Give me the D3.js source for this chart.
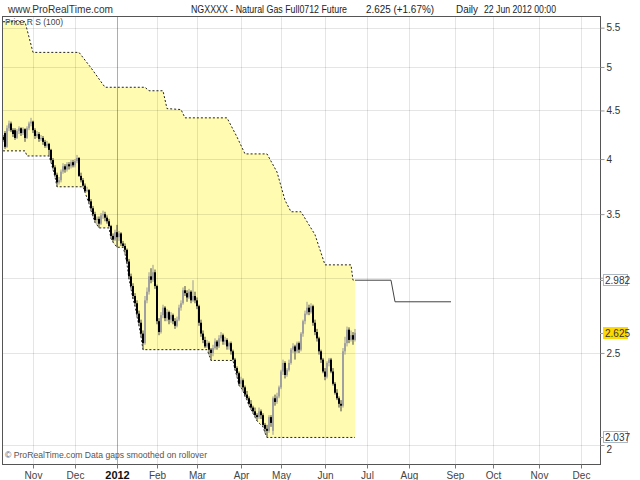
<!DOCTYPE html>
<html lang="en">
<head>
  <meta charset="UTF-8">
  <title>NGXXXX - Natural Gas Full0712 Future</title>
  <script src="https://d3js.org/d3.v7.min.js"></script>
  <style>
    body { margin: 0; background: #fff; }
    svg { display: block; font-family: "Liberation Sans", Arial, sans-serif; }
  </style>
</head>
<body>
  <svg id="chart" width="640" height="480"></svg>

  <script>
    // bars are placed by trading-day index (weekends and exchange holidays skipped)
    const firstDay = "2011-10-11";
    const holidays = ["2011-11-24", "2011-12-26", "2012-01-02", "2012-01-16", "2012-02-20",
                      "2012-04-06", "2012-05-28", "2012-07-04", "2012-09-03", "2012-11-22",
                      "2012-12-25"];

    // daily OHLC from 11 Oct 2011 to 22 Jun 2012, one line per week
    const open = [
      4.22, 4.26, 4.12, 4.31,
      4.36, 4.29, 4.29, 4.21, 4.28,
      4.31, 4.26, 4.30, 4.21, 4.31,
      4.36, 4.38, 4.29, 4.23, 4.25,
      4.20, 4.21, 4.17, 4.13, 4.15,
      4.09, 3.99, 3.92, 3.85, 3.78,
      3.80, 3.88, 3.93, 3.90,
      3.95, 3.93, 3.97, 3.94, 3.98,
      4.01, 3.84, 3.80, 3.75, 3.70,
      3.71, 3.61, 3.55, 3.50, 3.45,
      3.46, 3.42, 3.49, 3.50, 3.47,
      3.44, 3.40, 3.32, 3.29,
      3.35, 3.31, 3.34, 3.26,
      3.24, 3.21, 3.12, 3.01, 2.94,
      2.87, 2.82, 2.75, 2.69,
      2.62, 2.56, 2.84, 2.90, 3.01,
      2.985, 3.04, 2.94, 2.70, 2.63,
      2.74, 2.79, 2.72, 2.76, 2.71,
      2.74, 2.70, 2.67, 2.71, 2.79,
      2.82, 2.91, 2.89, 2.86,
      2.90, 2.84, 2.87, 2.84, 2.80,
      2.69, 2.62, 2.58, 2.54, 2.56,
      2.52, 2.50, 2.53, 2.57, 2.54,
      2.59, 2.61, 2.57, 2.58, 2.54,
      2.56, 2.51, 2.46, 2.41, 2.38,
      2.32, 2.34, 2.30, 2.26,
      2.24, 2.21, 2.19, 2.17, 2.15,
      2.14, 2.17, 2.15, 2.10, 2.08,
      2.07, 2.14, 2.07, 2.24, 2.22,
      2.25, 2.30, 2.39, 2.44, 2.37,
      2.40, 2.44, 2.52, 2.54, 2.51,
      2.56, 2.52, 2.62, 2.70, 2.75,
      2.79, 2.76, 2.80, 2.69, 2.63,
      2.59, 2.51, 2.46, 2.39,
      2.36, 2.44, 2.46, 2.39, 2.32,
      2.27, 2.24, 2.21, 2.20, 2.51,
      2.56, 2.645, 2.58, 2.61, 2.58
    ];
    const high = [
      4.24, 4.28, 4.34, 4.39,
      4.38, 4.31, 4.31, 4.30, 4.33,
      4.32, 4.32, 4.31, 4.33, 4.38,
      4.42, 4.39, 4.31, 4.28, 4.27,
      4.24, 4.23, 4.19, 4.18, 4.16,
      4.10, 4.01, 3.94, 3.87, 3.83,
      3.90, 3.96, 3.95, 3.97,
      3.97, 3.99, 3.99, 4.00, 4.04,
      4.02, 3.87, 3.82, 3.77, 3.74,
      3.72, 3.63, 3.57, 3.52, 3.48,
      3.48, 3.51, 3.53, 3.52, 3.49,
      3.46, 3.41, 3.34, 3.37,
      3.41, 3.36, 3.35, 3.28,
      3.26, 3.22, 3.14, 3.03, 2.96,
      2.89, 2.84, 2.77, 2.71,
      2.64, 2.87, 2.93, 3.04, 3.07,
      3.095, 3.06, 2.95, 2.72, 2.76,
      2.81, 2.80, 2.78, 2.77, 2.76,
      2.75, 2.72, 2.73, 2.81, 2.84,
      2.93, 2.94, 2.91, 2.92,
      2.91, 2.982, 2.90, 2.86, 2.81,
      2.71, 2.64, 2.60, 2.58, 2.57,
      2.53, 2.55, 2.59, 2.58, 2.61,
      2.63, 2.62, 2.60, 2.59, 2.57,
      2.57, 2.52, 2.47, 2.42, 2.39,
      2.36, 2.35, 2.31, 2.28,
      2.25, 2.23, 2.20, 2.19, 2.16,
      2.19, 2.18, 2.16, 2.11, 2.10,
      2.15, 2.15, 2.25, 2.26, 2.27,
      2.31, 2.40, 2.46, 2.45, 2.41,
      2.46, 2.53, 2.56, 2.55, 2.57,
      2.57, 2.63, 2.71, 2.77, 2.83,
      2.81, 2.82, 2.81, 2.71, 2.65,
      2.60, 2.52, 2.47, 2.41,
      2.45, 2.47, 2.47, 2.41, 2.33,
      2.29, 2.25, 2.23, 2.53, 2.60,
      2.665, 2.66, 2.64, 2.63, 2.65
    ];
    const low = [
      4.17, 4.10, 4.11, 4.28,
      4.27, 4.22, 4.19, 4.20, 4.25,
      4.23, 4.24, 4.17, 4.20, 4.29,
      4.33, 4.26, 4.20, 4.21, 4.17,
      4.18, 4.14, 4.11, 4.11, 4.03,
      3.97, 3.90, 3.83, 3.74, 3.76,
      3.78, 3.86, 3.87, 3.88,
      3.90, 3.91, 3.92, 3.92, 3.96,
      3.83, 3.78, 3.74, 3.69, 3.69,
      3.59, 3.53, 3.48, 3.43, 3.41,
      3.385, 3.41, 3.46, 3.44, 3.42,
      3.39, 3.30, 3.27, 3.28,
      3.23, 3.28, 3.24, 3.23,
      3.18, 3.10, 2.99, 2.92, 2.85,
      2.80, 2.73, 2.67, 2.60,
      2.52, 2.55, 2.82, 2.88, 2.96,
      2.97, 2.92, 2.68, 2.61, 2.62,
      2.72, 2.70, 2.70, 2.68, 2.69,
      2.68, 2.65, 2.66, 2.70, 2.77,
      2.81, 2.87, 2.83, 2.85,
      2.82, 2.83, 2.82, 2.78, 2.67,
      2.60, 2.56, 2.53, 2.53, 2.49,
      2.455, 2.48, 2.52, 2.52, 2.53,
      2.57, 2.55, 2.55, 2.52, 2.52,
      2.49, 2.455, 2.40, 2.36, 2.31,
      2.30, 2.28, 2.25, 2.23,
      2.20, 2.18, 2.16, 2.14, 2.12,
      2.13, 2.13, 2.09, 2.06, 2.037,
      2.06, 2.09, 2.05, 2.20, 2.21,
      2.24, 2.29, 2.37, 2.35, 2.36,
      2.39, 2.43, 2.50, 2.46, 2.50,
      2.50, 2.51, 2.60, 2.68, 2.74,
      2.74, 2.75, 2.67, 2.61, 2.57,
      2.49, 2.44, 2.38, 2.34,
      2.35, 2.42, 2.38, 2.31, 2.26,
      2.23, 2.19, 2.17, 2.19, 2.49,
      2.54, 2.56, 2.57, 2.55, 2.57
    ];
    const close = [
      4.19, 4.12, 4.31, 4.36,
      4.29, 4.25, 4.21, 4.28, 4.31,
      4.26, 4.30, 4.21, 4.31, 4.36,
      4.38, 4.29, 4.23, 4.25, 4.20,
      4.21, 4.17, 4.13, 4.15, 4.09,
      3.99, 3.92, 3.85, 3.78, 3.80,
      3.88, 3.93, 3.90, 3.95,
      3.93, 3.97, 3.94, 3.98, 4.01,
      3.84, 3.80, 3.75, 3.70, 3.71,
      3.61, 3.55, 3.50, 3.45, 3.46,
      3.42, 3.49, 3.50, 3.47, 3.44,
      3.40, 3.32, 3.29, 3.35,
      3.31, 3.34, 3.26, 3.24,
      3.21, 3.12, 3.01, 2.94, 2.87,
      2.82, 2.75, 2.69, 2.62,
      2.56, 2.84, 2.90, 3.01, 2.985,
      3.04, 2.94, 2.70, 2.63, 2.74,
      2.79, 2.72, 2.76, 2.71, 2.74,
      2.70, 2.67, 2.71, 2.79, 2.82,
      2.91, 2.89, 2.86, 2.90,
      2.84, 2.87, 2.84, 2.80, 2.69,
      2.62, 2.58, 2.54, 2.56, 2.52,
      2.50, 2.53, 2.57, 2.54, 2.59,
      2.61, 2.57, 2.58, 2.54, 2.56,
      2.51, 2.46, 2.41, 2.38, 2.32,
      2.34, 2.30, 2.26, 2.24,
      2.21, 2.19, 2.17, 2.15, 2.14,
      2.17, 2.15, 2.10, 2.08, 2.07,
      2.14, 2.11, 2.24, 2.22, 2.25,
      2.30, 2.39, 2.44, 2.37, 2.40,
      2.44, 2.52, 2.54, 2.51, 2.56,
      2.52, 2.62, 2.70, 2.75, 2.79,
      2.76, 2.80, 2.69, 2.63, 2.59,
      2.51, 2.46, 2.39, 2.36,
      2.44, 2.46, 2.39, 2.32, 2.27,
      2.24, 2.21, 2.20, 2.51, 2.56,
      2.645, 2.58, 2.61, 2.582, 2.625
    ];

    // Price R S (100): resistance (upper dashed line) breakpoints
    const resDates = ["2011-10-11", "2011-10-26", "2011-11-01", "2011-12-05", "2011-12-13",
                      "2011-12-22", "2012-01-24", "2012-01-26", "2012-02-06", "2012-02-08",
                      "2012-02-17", "2012-02-22", "2012-03-22", "2012-03-29", "2012-04-04",
                      "2012-04-20", "2012-04-27", "2012-05-03", "2012-05-08", "2012-05-15",
                      "2012-05-21", "2012-05-24", "2012-06-01", "2012-06-20", "2012-06-21",
                      "2012-06-22"];
    const resValues = [5.58, 5.58, 5.18, 5.18, 4.99,
                       4.76, 4.76, 4.72, 4.72, 4.52,
                       4.51, 4.42, 4.42, 4.22, 4.05,
                       4.05, 3.876, 3.62, 3.52, 3.52,
                       3.41, 3.33, 3.095, 3.095, 2.982,
                       2.982];
    // resistance carried forward past the last bar (solid line)
    const projDates = ["2012-06-22", "2012-07-19", "2012-07-23", "2012-08-30"];
    const projValues = [2.982, 2.982, 2.83, 2.83];

    // support (lower dashed line) breakpoints
    const supDates = ["2011-10-11", "2011-10-26", "2011-10-27", "2011-11-11", "2011-11-14",
                      "2011-11-15", "2011-11-16", "2011-11-17", "2011-12-07", "2011-12-08",
                      "2011-12-12", "2011-12-13", "2011-12-14", "2011-12-15", "2011-12-16",
                      "2011-12-19", "2011-12-27", "2011-12-28", "2011-12-29", "2012-01-03",
                      "2012-01-06", "2012-01-09", "2012-01-10", "2012-01-11", "2012-01-12",
                      "2012-01-13", "2012-01-17", "2012-01-18", "2012-01-19", "2012-01-20",
                      "2012-01-23", "2012-03-08", "2012-03-09", "2012-03-12", "2012-03-27",
                      "2012-03-28", "2012-03-29", "2012-03-30", "2012-04-02", "2012-04-03",
                      "2012-04-04", "2012-04-05", "2012-04-09", "2012-04-10", "2012-04-11",
                      "2012-04-12", "2012-04-13", "2012-04-18", "2012-04-19", "2012-04-20",
                      "2012-06-22"];
    const supValues = [4.08, 4.08, 4.03, 4.03, 3.97,
                       3.90, 3.83, 3.74, 3.74, 3.69,
                       3.59, 3.53, 3.48, 3.43, 3.41,
                       3.385, 3.385, 3.30, 3.27, 3.23,
                       3.23, 3.18, 3.10, 2.99, 2.92,
                       2.85, 2.80, 2.73, 2.67, 2.60,
                       2.52, 2.52, 2.49, 2.455, 2.455,
                       2.40, 2.36, 2.31, 2.30, 2.28,
                       2.25, 2.23, 2.20, 2.18, 2.16,
                       2.14, 2.12, 2.09, 2.06, 2.037,
                       2.037];

    const gridValues = [2, 2.5, 3, 3.5, 4, 4.5, 5, 5.5];
    const monthTicks = ["2011-11-01", "2011-12-01", "2012-01-01", "2012-02-01", "2012-03-01",
                        "2012-04-01", "2012-05-01", "2012-06-01", "2012-07-01", "2012-08-01",
                        "2012-09-01", "2012-10-01", "2012-11-01", "2012-12-01"];
    const lastPrice = 2.625, lastRes = 2.982, lastSup = 2.037;

    // ---------------------------------------------------------------
    const W = 640, H = 480;
    const plot = { left: 3, right: 600, top: 17, bottom: 464 };
    const font = '"Liberation Sans", Arial, sans-serif';

    const parse = d3.utcParse("%Y-%m-%d");
    const fmt = d3.utcFormat("%Y-%m-%d");

    const calendar = d3.utcDay.range(parse(firstDay), parse("2013-01-01"))
      .filter(d => d.getUTCDay() % 6 !== 0 && !holidays.includes(fmt(d)));
    const barIndex = new Map(calendar.map((d, i) => [fmt(d), i]));

    const bars = close.map((c, i) => ({ i, o: open[i], h: high[i], l: low[i], c }));

    // 2 px per bar, bar 0 on the left frame
    const x = d3.scaleLinear().domain([0, 298.5]).range([plot.left, plot.right]);
    const y = d3.scaleLog().domain([1.91, 5.644]).range([plot.bottom, plot.top]);

    const svg = d3.select("#chart");
    svg.append("rect").attr("width", W).attr("height", H).attr("fill", "#fff");

    svg.append("defs").append("clipPath").attr("id", "clip")
      .append("rect")
      .attr("x", plot.left).attr("y", plot.top)
      .attr("width", plot.right - plot.left).attr("height", plot.bottom - plot.top);

    const g = svg.append("g").attr("clip-path", "url(#clip)");

    const pts = (ds, vs) => ds.map((d, i) => ({ i: barIndex.get(d), v: vs[i] }));
    const res = pts(resDates, resValues);
    const sup = pts(supDates, supValues);
    const proj = pts(projDates, projValues);

    const line = d3.line().x(d => x(d.i)).y(d => y(d.v));

    // yellow band between support and resistance
    g.append("path")
      .attr("d", line(res.concat(sup.slice().reverse())) + "Z")
      .attr("fill", "#fffbb0");

    // grid
    g.selectAll(".hgrid").data(gridValues).join("line")
      .attr("class", "hgrid")
      .attr("x1", plot.left).attr("x2", plot.right)
      .attr("y1", d => Math.round(y(d)) + 0.5).attr("y2", d => Math.round(y(d)) + 0.5)
      .attr("stroke", "#000").attr("stroke-opacity", 0.1);

    // first trading day of each month
    const monthIdx = monthTicks.map(m => calendar.findIndex(d => d >= parse(m)));
    const isYear = i => calendar[i].getUTCMonth() === 0;

    g.selectAll(".vgrid").data(monthIdx).join("line")
      .attr("class", "vgrid")
      .attr("x1", d => Math.round(x(d)) + 0.5).attr("x2", d => Math.round(x(d)) + 0.5)
      .attr("y1", plot.top).attr("y2", plot.bottom)
      .attr("stroke", "#000")
      .attr("stroke-opacity", d => isYear(d) ? 0.32 : 0.1);

    // dashed support / resistance
    [res, sup].forEach(s => {
      g.append("path").attr("d", line(s))
        .attr("fill", "none").attr("stroke", "#222")
        .attr("stroke-width", 1).attr("stroke-dasharray", "2,2");
    });
    g.append("path").attr("d", line(proj))
      .attr("fill", "none").attr("stroke", "#444").attr("stroke-width", 1);

    // candles
    const up = d => d.c >= d.o;
    const cg = g.selectAll(".bar").data(bars).join("g").attr("class", "bar");
    cg.append("line")
      .attr("x1", d => x(d.i)).attr("x2", d => x(d.i))
      .attr("y1", d => y(d.h)).attr("y2", d => y(d.l))
      .attr("stroke", d => up(d) ? "#999" : "#444").attr("stroke-width", 1);
    cg.append("rect")
      .attr("x", d => x(d.i) - 1).attr("width", 2)
      .attr("y", d => y(Math.max(d.o, d.c)))
      .attr("height", d => Math.max(1, Math.abs(y(d.o) - y(d.c))))
      .attr("fill", d => up(d) ? "#a0a0a0" : "#000");

    // frame
    svg.append("rect")
      .attr("x", plot.left - 0.5).attr("y", plot.top - 0.5)
      .attr("width", plot.right - plot.left + 1).attr("height", plot.bottom - plot.top + 1)
      .attr("fill", "none").attr("stroke", "#555");

    // right price axis
    const boxes = [
      { v: lastRes, fill: "#fff", stroke: "#a9b6c4" },
      { v: lastPrice, fill: "#ffd800", stroke: "#ffd800" },
      { v: lastSup, fill: "#fff", stroke: "#a9b6c4" }
    ];

    const yAxis = svg.append("g")
      .attr("transform", `translate(${plot.right + 0.5},0)`)
      .call(d3.axisRight(y).tickValues(gridValues).tickSize(4).tickPadding(2)
        .tickFormat(d3.format("~g")));
    yAxis.select(".domain").remove();
    yAxis.selectAll(".tick line").attr("stroke", "#999");
    yAxis.selectAll(".tick text")
      .attr("fill", "#333").style("font-size", "10px").style("font-family", font)
      .attr("display", d => boxes.some(b => Math.abs(y(b.v) - y(d)) < 5) ? "none" : null)
      .attr("dy", d => boxes.some(b => Math.abs(y(b.v) - y(d)) < 12) ? "0.75em" : "0.32em");

    const bx = svg.selectAll(".pbox").data(boxes).join("g").attr("class", "pbox")
      .attr("transform", d => `translate(0,${Math.round(y(d.v))})`);
    bx.append("line").attr("x1", plot.right).attr("x2", plot.right + 3)
      .attr("y1", 0.5).attr("y2", 0.5).attr("stroke", "#999");
    bx.append("rect")
      .attr("x", 603.5).attr("y", -5.5).attr("width", 24).attr("height", 11)
      .attr("fill", d => d.fill).attr("stroke", d => d.stroke);
    bx.append("text")
      .attr("x", 605).attr("y", 4)
      .style("font-size", "10px").style("font-family", font).attr("fill", "#333")
      .text(d => d3.format(".3f")(d.v));

    // bottom date axis
    const xAxis = svg.append("g")
      .attr("transform", `translate(0,${plot.bottom + 0.5})`)
      .call(d3.axisBottom(x).tickValues(monthIdx).tickSize(4).tickPadding(3)
        .tickFormat(i => isYear(i) ? d3.utcFormat("%Y")(calendar[i]) : d3.utcFormat("%b")(calendar[i])));
    xAxis.select(".domain").remove();
    xAxis.selectAll(".tick line").attr("stroke", "#777");
    xAxis.selectAll(".tick text")
      .style("font-family", font)
      .style("font-size", d => isYear(d) ? "11px" : "10px")
      .style("font-weight", d => isYear(d) ? "bold" : null)
      .attr("fill", d => isYear(d) ? "#111" : "#444");

    // texts
    const label = (t, xx, yy, size, len, color) => svg.append("text")
      .attr("x", xx).attr("y", yy)
      .attr("textLength", len).attr("lengthAdjust", "spacingAndGlyphs")
      .style("font-size", size + "px").style("font-family", font)
      .attr("fill", color).text(t);

    label("www.ProRealTime.com", 8, 13, 10.5, 105, "#333");
    label("NGXXXX - Natural Gas Full0712 Future", 191, 13, 10, 156, "#222");
    label("2.625 (+1.67%)", 366, 13, 10, 68, "#222");
    label("Daily", 456, 13, 10, 22, "#222");
    label("22 Jun 2012 00:00", 484, 13, 10, 72, "#222");
    label("Price R S (100)", 5, 25, 9, 58, "#444");
    label("\u00a9 ProRealTime.com  Data gaps smoothed on rollover", 5, 458, 9, 202, "#555");
  </script>
</body>
</html>
